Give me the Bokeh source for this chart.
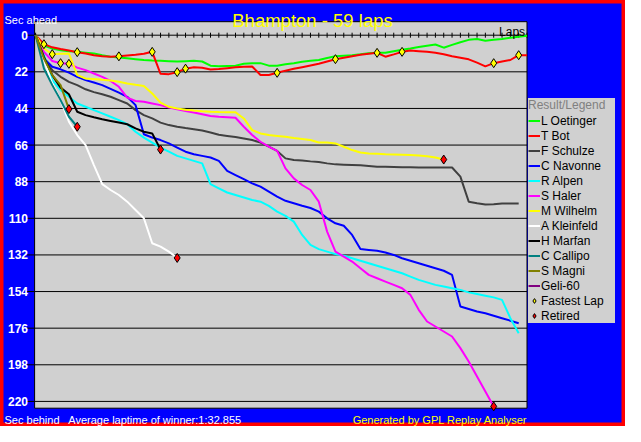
from bokeh.plotting import figure
from bokeh.models import Range1d, Legend, LegendItem, Label
from bokeh.core.properties import value
from bokeh.embed import file_html
from bokeh.resources import INLINE

# ---------------- data ----------------
title_text = "Bhampton - 59 laps"
total_laps = 59
lap_ticks = list(range(0, 60))
sec_ticks = [0, 22, 44, 66, 88, 110, 132, 154, 176, 198, 220]
sec_labels = [str(t) for t in sec_ticks]

drivers = ["L Oetinger", "T Bot", "F Schulze", "C Navonne", "R Alpen", "S Haler",
           "M Wilhelm", "A Kleinfeld", "H Marfan", "C Callipo", "S Magni", "Geli-60"]
colors = ["#00FF00", "#FF0000", "#404040", "#0000FF", "#00FFFF", "#FF00FF",
          "#FFFF00", "#FFFFFF", "#000000", "#008080", "#808000", "#800080"]

l_oetinger = [0, 6.2, 8, 9, 9.6, 10, 10.5, 11, 12, 12.9, 13.4, 13.9, 14.4, 14.9, 15.2, 15.4,
              15.6, 15.8, 15.6, 15.4, 15.8, 18.3, 18.7, 18.5, 18.3, 17.2, 16.8, 16.8, 18.3,
              18.3, 17.5, 16.8, 16.0, 15.4, 14.9, 13.7, 12.7, 12.3, 12.0, 11.5, 10.8, 10.6,
              10.6, 9.6, 8.7, 8.0, 7.1, 6.3, 5.6, 7.5, 5.8, 4.2, 2.8, 2.3, 3.3, 2.8, 2.3,
              1.5, 1.0, 0.4]
t_bot = [0, 5.4, 7.3, 8.3, 9.2, 10.2, 11, 12, 12.7, 12.9, 12.7, 12.2, 11.8, 11.2, 10.0,
         23.2, 23.4, 22.2, 20.1, 19.3, 19.5, 20.6, 20.3, 19.8, 19.3, 19.0, 18.8, 23.9, 23.9,
         22.6, 21.3, 20.2, 19.2, 18.2, 17.2, 15.8, 14.4, 13.5, 12.6, 11.8, 11.2, 10.6, 12.9,
         11.5, 10.0, 9.2, 9.6, 10.0, 10.6, 11.5, 12.7, 13.6, 14.5, 16.5, 18.7, 16.8, 15.8,
         14.9, 12.0, 12.0]
f_schulze = [0, 14, 21, 25, 28, 30, 32.5, 34.2, 35.5, 37, 39, 41, 45, 48, 50, 52.5, 54, 55,
             55.8, 56.5, 57.3, 58.5, 59.8, 60.5, 61.2, 62, 63, 64.5, 67, 69.5, 74, 75, 75.3,
             75.8, 76.2, 77, 77.6, 77.8, 78, 78.2, 78.6, 79, 79.1, 79.2, 79.3, 79.4, 79.5,
             79.5, 79.5, 79.5, 79.5, 85, 100, 101, 101.7, 101.5, 101.1, 101.1, 101.1]
c_navonne = [0, 14, 19, 20.5, 22.5, 25, 27, 28.4, 30, 32.2, 34.5, 37, 42, 59.5, 61.5, 63,
             65, 67.5, 70, 71.5, 72.5, 73.5, 75.5, 81.5, 84, 86.5, 89, 91, 94, 97, 99.5,
             101, 102.5, 103.8, 106, 110, 113, 114.5, 120, 128.5, 129, 129.5, 130.5, 132,
             134, 135.5, 137, 138.5, 140, 141.5, 144, 163, 164.5, 166, 167, 168.5, 170,
             171.5, 173]
r_alpen = [0, 12, 27, 33, 37, 41, 43, 45, 47, 49, 51, 53.5, 58, 61.5, 64.5, 67.5, 70, 72.5,
           74, 75.5, 77, 89.5, 92, 94.5, 96, 97.5, 99, 100, 102.5, 106, 108.5, 112, 120,
           126, 128.5, 130, 131.5, 132.5, 134, 135.5, 137, 138.5, 140, 141.5, 143, 145, 147,
           148.5, 150, 151, 152, 153, 154.5, 155.5, 156.5, 157.5, 159, 170, 179]
s_haler = [0, 10, 15.5, 16.8, 17.2, 19.5, 21, 23, 25, 27.5, 31, 37.5, 39.5, 40, 41, 42,
           43.5, 44.5, 45.5, 46.5, 47.5, 48.5, 49, 49.3, 49.6, 55, 60, 64, 67, 69.5, 80, 86,
           90, 93, 100, 118, 130, 133, 136, 140, 144, 146, 148, 150, 152, 156, 165, 172,
           175, 178, 181, 188, 196, 205, 214, 223]
m_wilhelm = [0, 8, 11.4, 11.2, 11, 24, 26, 26.3, 26.8, 27.2, 28, 29, 29.8, 30.5, 35, 40.5,
             43, 44, 44.8, 45.3, 45.7, 46, 46.2, 46.3, 46.3, 50, 57, 59, 60, 60.5, 61, 61.7,
             62.3, 63, 64.5, 64.5, 65, 67, 69, 70.5, 71, 71.2, 71.5, 71.6, 71.8, 72, 72.3,
             72.7, 73.5, 74.7]
a_kleinfeld = [0, 15, 29, 39, 52, 60, 66, 78, 89.5, 93, 96, 100, 105, 110, 125, 127, 130,
               133.8]
h_marfan = [0, 13, 24, 31.5, 35.5, 46, 48, 49.3, 50.5, 51.5, 52.5, 53.5, 56, 58, 59, 68.7]
c_callipo = [0, 20, 30, 39, 49, 55]
s_magni = [0, 14, 24, 30, 44.4]
geli_60 = [0]

series = [l_oetinger, t_bot, f_schulze, c_navonne, r_alpen, s_haler,
          m_wilhelm, a_kleinfeld, h_marfan, c_callipo, s_magni, geli_60]

fastest_driver = ["T Bot", "M Wilhelm", "S Haler", "S Haler", "T Bot", "T Bot", "T Bot",
                  "T Bot", "T Bot", "T Bot", "T Bot", "T Bot", "T Bot", "T Bot", "T Bot"]
fastest_lap = [1, 2, 3, 4, 5, 10, 14, 17, 18, 29, 36, 41, 44, 55, 58]
retired_driver = ["S Magni", "C Callipo", "H Marfan", "A Kleinfeld", "M Wilhelm", "S Haler"]

footer_left = "Sec behind"
footer_mid = "Average laptime of winner:1:32.855"
footer_right = "Generated by GPL Replay Analyser"

# ---------------- layout geometry (canvas pixels) ----------------
FONT = "Liberation Sans"
BG = "#D0D0D0"
W, H = 625, 426
LAP0_PX, PX_PER_LAP = 35.1, 8.329     # x pixel of lap 0, pixels per lap
SEC0_PX, PX_PER_SEC = 34.7, 1.6646    # y pixel of 0 s, pixels per second


def lap_at(px):
    return (px - LAP0_PX) / PX_PER_LAP


def sec_at(py):
    return (py - SEC0_PX) / PX_PER_SEC


p = figure(width=W, height=H, output_backend="svg", toolbar_location=None,
           x_range=Range1d(lap_at(0), lap_at(W)), y_range=Range1d(sec_at(H), sec_at(0)),
           min_border=0, background_fill_color="#0000FF", border_fill_color="#0000FF",
           outline_line_color="#FF0000", outline_line_width=6)
p.axis.visible = False
p.grid.visible = False

# plot area
area_l, area_r = lap_at(34.1), float(total_laps)
area_t, area_b = sec_at(21.2), sec_at(407.7)
p.quad(left=[area_l], right=[area_r], top=[area_t], bottom=[area_b],
       fill_color=BG, line_color="black", line_width=1)

# horizontal grid lines with their outside ticks
tick_left = lap_at(26.3)
p.segment(x0=[tick_left] * len(sec_ticks), y0=sec_ticks,
          x1=[area_r] * len(sec_ticks), y1=sec_ticks, line_color="black", line_width=1)
p.text(x=[lap_at(27.5)] * len(sec_ticks), y=sec_ticks, text=sec_labels,
       text_color="white", text_font=value(FONT), text_font_style="bold",
       text_font_size=value("12px"), text_align="right", text_baseline="middle")

# lap ticks crossing the 0 s line
th = 2.5 / PX_PER_SEC
p.segment(x0=lap_ticks, y0=[-th] * len(lap_ticks), x1=lap_ticks,
          y1=[th] * len(lap_ticks), line_color="black", line_width=1)

items = []
for name, col, vals in zip(drivers, colors, series):
    r = p.line(list(range(len(vals))), vals, line_color=col, line_width=2)
    items.append(LegendItem(label=name, renderers=[r]))

lookup = dict(zip(drivers, series))
fy = [lookup[d][l] for d, l in zip(fastest_driver, fastest_lap)]
rx = [len(lookup[d]) - 1 for d in retired_driver]
ry = [lookup[d][-1] for d in retired_driver]
rf = p.scatter(fastest_lap, fy, marker="diamond", size=9, fill_color="#FFFF00",
               line_color="black", line_width=1)
rr = p.scatter(rx, ry, marker="diamond", size=9, fill_color="#FF0000",
               line_color="black", line_width=1)
items.append(LegendItem(label="Fastest Lap", renderers=[rf]))
items.append(LegendItem(label="Retired", renderers=[rr]))

legend = Legend(items=items, title="Result/Legend", location=(528, H - 323))
legend.title_text_color = "#808080"
legend.title_text_font = FONT
legend.title_text_font_size = "12px"
legend.title_text_font_style = "normal"
legend.title_standoff = 1
legend.label_text_font = FONT
legend.label_text_font_size = "12px"
legend.label_text_color = "black"
legend.background_fill_color = BG
legend.background_fill_alpha = 1
legend.border_line_color = None
legend.glyph_width = 12
legend.glyph_height = 15
legend.label_height = 15
legend.label_width = 74
legend.label_standoff = 1
legend.spacing = 0
legend.padding = 3
legend.margin = 0
p.add_layout(legend, "center")

# texts
def put(text, px, py, color, size, align="left"):
    p.add_layout(Label(x=lap_at(px), y=sec_at(py), text=text, text_color=color,
                       text_font=FONT, text_font_size=size, text_align=align,
                       text_baseline="alphabetic"))


put("Sec ahead", 4, 19.3, "white", "11px")
put(title_text, 312, 19.8, "#FFFF00", "18.5px", "center")
put("Laps", 524.6, 31.8, "black", "12px", "right")
put(footer_left, 4, 419, "white", "11px")
put(footer_mid, 67.8, 419, "white", "11px")
put(footer_right, 527, 419, "#FFFF00", "11px", "right")

open("out.html", "w").write(file_html(p, INLINE))
